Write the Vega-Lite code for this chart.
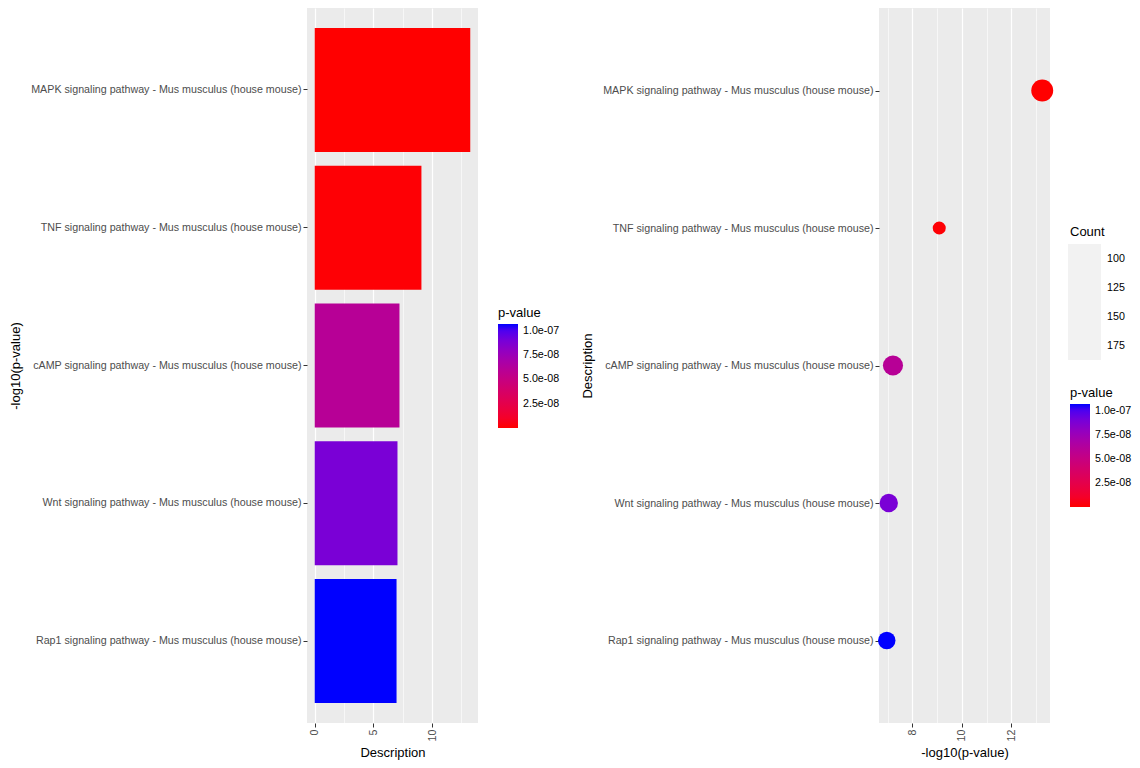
{
  "$schema": "https://vega.github.io/schema/vega-lite/v6.json",
  "background": "white",
  "padding": {"left": 9, "top": 8, "right": 5, "bottom": 5},
  "config": {
    "font": "Liberation Sans",
    "view": {"fill": "#EBEBEB", "stroke": null},
    "axis": {
      "domain": false,
      "gridColor": "white",
      "tickColor": "#333333",
      "tickSize": 4,
      "labelColor": "#4D4D4D",
      "labelFontSize": 10.7,
      "titleFontSize": 13,
      "titleFontWeight": "normal",
      "titleColor": "black",
      "labelPadding": 2,
      "labelLimit": 500,
      "maxExtent": 500
    },
    "legend": {
      "titleFontWeight": "normal",
      "titleFontSize": 13,
      "titleColor": "black",
      "labelFontSize": 10.7,
      "labelColor": "black",
      "padding": 0
    }
  },
  "datasets": {
    "d": [
      {"Description": "MAPK signaling pathway - Mus musculus (house mouse)", "logp": 13.25, "pvalue": 5.6e-14, "Count": 190},
      {"Description": "TNF signaling pathway - Mus musculus (house mouse)", "logp": 9.09, "pvalue": 8.1e-10, "Count": 86},
      {"Description": "cAMP signaling pathway - Mus musculus (house mouse)", "logp": 7.22, "pvalue": 6.0e-8, "Count": 165},
      {"Description": "Wnt signaling pathway - Mus musculus (house mouse)", "logp": 7.05, "pvalue": 8.9e-8, "Count": 142},
      {"Description": "Rap1 signaling pathway - Mus musculus (house mouse)", "logp": 6.97, "pvalue": 1.07e-7, "Count": 131}
    ]
  },
  "spacing": 21,
  "resolve": {
    "scale": {"color": "independent", "x": "independent", "y": "independent", "size": "independent", "strokeWidth": "independent"},
    "legend": {"color": "independent", "size": "independent", "strokeWidth": "independent"}
  },
  "hconcat": [
    {
      "data": {"name": "d"},
      "width": 171,
      "height": 715,
      "mark": {"type": "bar"},
      "encoding": {
        "y": {
          "field": "Description",
          "type": "nominal",
          "sort": [
            "MAPK signaling pathway - Mus musculus (house mouse)",
            "TNF signaling pathway - Mus musculus (house mouse)",
            "cAMP signaling pathway - Mus musculus (house mouse)",
            "Wnt signaling pathway - Mus musculus (house mouse)",
            "Rap1 signaling pathway - Mus musculus (house mouse)"
          ],
          "scale": {"paddingInner": 0.1, "paddingOuter": 0.145},
          "axis": {"title": "-log10(p-value)", "bandPosition": 0.5, "gridWidth": 1.2, "titlePadding": 8}
        },
        "x": {
          "field": "logp",
          "type": "quantitative",
          "scale": {"domain": [-0.66, 13.91], "nice": false, "zero": false},
          "axis": {
            "title": "Description",
            "values": [0, 2.5, 5, 7.5, 10, 12.5],
            "labelAngle": 270,
            "labelAlign": "right",
            "labelBaseline": "middle",
            "labelExpr": "datum.value % 5 == 0 ? datum.label : ''",
            "gridWidth": {"condition": {"test": "datum.value % 5 != 0", "value": 0.6}, "value": 1.2},
            "tickOpacity": {"condition": {"test": "datum.value % 5 != 0", "value": 0}, "value": 1},
            "titlePadding": 6
          }
        },
        "x2": {"datum": 0},
        "color": {
          "field": "pvalue",
          "type": "quantitative",
          "scale": {"domain": [5.6e-14, 1.07e-7], "range": ["red", "blue"], "interpolate": "lab", "nice": false, "zero": false},
          "legend": {
            "title": "p-value",
            "orient": "none",
            "legendX": 191,
            "legendY": 299,
            "direction": "vertical",
            "gradientLength": 104,
            "gradientThickness": 20,
            "gradientStrokeWidth": 0,
            "values": [2.5e-8, 5e-8, 7.5e-8, 1e-7],
            "labelExpr": "replace(format(datum.value, '.1e'), 'e-', 'e-0')",
            "labelOffset": 5,
            "titlePadding": 4
          }
        }
      }
    },
    {
      "data": {"name": "d"},
      "width": 171,
      "height": 715,
      "mark": {"type": "circle", "opacity": 1},
      "encoding": {
        "y": {
          "field": "Description",
          "type": "nominal",
          "sort": [
            "MAPK signaling pathway - Mus musculus (house mouse)",
            "TNF signaling pathway - Mus musculus (house mouse)",
            "cAMP signaling pathway - Mus musculus (house mouse)",
            "Wnt signaling pathway - Mus musculus (house mouse)",
            "Rap1 signaling pathway - Mus musculus (house mouse)"
          ],
          "scale": {"type": "point", "padding": 0.6},
          "axis": {"title": "Description", "gridWidth": 1.2, "titlePadding": 8}
        },
        "x": {
          "field": "logp",
          "type": "quantitative",
          "scale": {"domain": [6.656, 13.564], "nice": false, "zero": false},
          "axis": {
            "title": "-log10(p-value)",
            "values": [7, 8, 9, 10, 11, 12, 13],
            "labelAngle": 270,
            "labelAlign": "right",
            "labelBaseline": "middle",
            "labelExpr": "datum.value % 2 == 0 ? datum.label : ''",
            "gridWidth": {"condition": {"test": "datum.value % 2 != 0", "value": 0.6}, "value": 1.2},
            "tickOpacity": {"condition": {"test": "datum.value % 2 != 0", "value": 0}, "value": 1},
            "titlePadding": 6
          }
        },
        "size": {
          "field": "Count",
          "type": "quantitative",
          "scale": {"domain": [86, 190], "range": [170, 480], "zero": false, "nice": false},
          "legend": null
        },
        "strokeWidth": {
          "field": "Count",
          "type": "quantitative",
          "scale": {"domain": [80, 200], "range": [0, 0], "zero": false, "nice": false},
          "legend": {
            "title": "Count",
            "orient": "none",
            "legendX": 191,
            "legendY": 218,
            "values": [100, 125, 150, 175],
            "symbolType": "M-1.14,-1H1.14V1H-1.14Z",
            "symbolSize": 841,
            "symbolStrokeWidth": 0,
            "symbolFillColor": "#F2F2F2",
            "symbolOpacity": 1,
            "rowPadding": 0,
            "titlePadding": 5,
            "labelOffset": 8
          }
        },
        "color": {
          "field": "pvalue",
          "type": "quantitative",
          "scale": {"domain": [5.6e-14, 1.07e-7], "range": ["red", "blue"], "interpolate": "lab", "nice": false, "zero": false},
          "legend": {
            "title": "p-value",
            "orient": "none",
            "legendX": 191,
            "legendY": 379,
            "direction": "vertical",
            "gradientLength": 103,
            "gradientThickness": 20,
            "gradientStrokeWidth": 0,
            "values": [2.5e-8, 5e-8, 7.5e-8, 1e-7],
            "labelExpr": "replace(format(datum.value, '.1e'), 'e-', 'e-0')",
            "labelOffset": 5,
            "titlePadding": 4
          }
        }
      }
    }
  ]
}
